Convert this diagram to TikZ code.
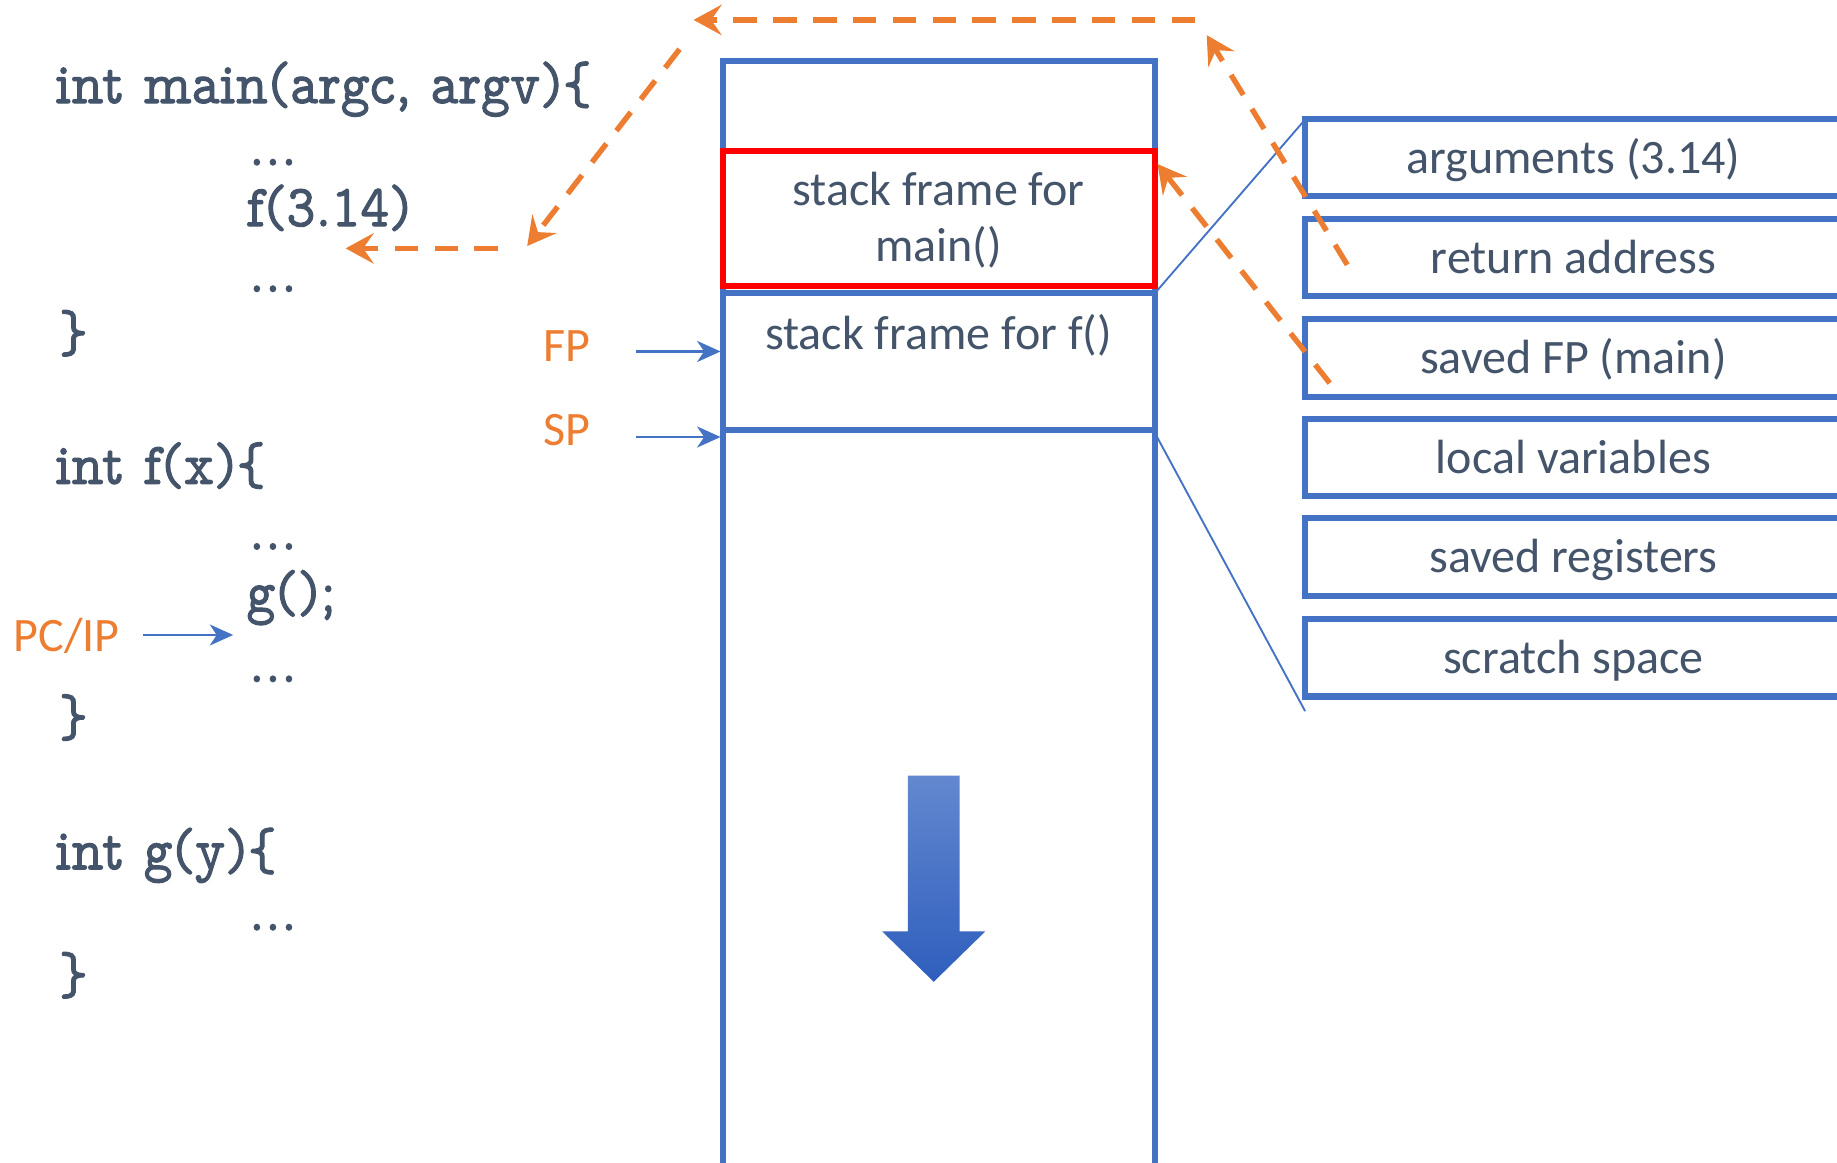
\documentclass[tikz,border=0pt]{standalone}
\usepackage{fontspec}
\setmainfont{Carlito}
\newfontfamily\codefont[FakeBold=1.6,FakeStretch=0.92]{Latin Modern Mono Prop}
\usetikzlibrary{arrows.meta}
\definecolor{txt}{HTML}{44546A}
\definecolor{org}{HTML}{ED7D31}
\definecolor{blu}{HTML}{4472C4}
\definecolor{arrtop}{HTML}{6388CF}
\definecolor{arrbot}{HTML}{2E5EBD}
\begin{document}
\begin{tikzpicture}[x=0.5pt,y=-0.5pt,
  code/.style={anchor=base west, inner sep=0pt, font=\codefont\fontsize{25.5}{28}\selectfont, text=txt},
  lbl/.style={inner sep=0pt, font=\fontsize{20.5}{24}\selectfont, text=txt, align=center},
  reglbl/.style={inner sep=0pt, font=\fontsize{20.5}{24}\selectfont, text=org},
  fieldbox/.style={draw=blu, line width=2.6pt, minimum width=229pt, minimum height=33pt, inner sep=0pt, text height=16pt, text depth=2.5pt, font=\fontsize{20.5}{24}\selectfont, text=txt},
  stackline/.style={draw=blu, line width=2.5pt},
  thinline/.style={draw=blu, line width=0.8pt},
  ptr/.style={draw=blu, line width=0.9pt, -{Stealth[length=10pt,width=9pt,inset=3pt]}},
  flow/.style={draw=org, line width=2.3pt, dash pattern=on 10pt off 7pt, -{Stealth[length=12pt,width=13pt,inset=4.5pt]}}
]
\clip (0,0) rectangle (1568,992);
\fill[white] (0,0) rectangle (1568,992);

% ---- code ----
\node[code] (c1) at (47,88) {int main(argc, argv)\{};
\node[code] (c2) at (212,141) {...};
\node[code] (c3) at (210,193) {f(3.14)};
\node[code] (c4) at (212,249) {...};
\node[code] (c5) at (50,300) {\}};
\node[code] (c6) at (47,413) {int f(x)\{};
\node[code] (c7) at (212,469) {...};
\node[code] (c8) at (210,522) {g();};
\node[code] (c9) at (212,582) {...};
\node[code] (c10) at (50,628) {\}};
\node[code] (c11) at (47,742) {int g(y)\{};
\node[code] (c12) at (212,794) {...};
\node[code] (c13) at (50,848) {\}};

% ---- stack ----
\draw[stackline] (617,1000) -- (617,52) -- (986,52) -- (986,1000);
\draw[stackline] (617,129) -- (986,129);
\draw[stackline] (617,250) -- (986,250);
\draw[stackline] (617,367) -- (986,367);
\node[draw=red, line width=2.7pt, minimum width=184.5pt, minimum height=57.5pt, inner sep=0pt] (mainframe) at (801.5,186.5) {};
\node[lbl] (mainlbl) at (801,188) {stack frame for\\main()};
\node[lbl] (flbl) at (801,286) {stack frame for f()};
\coordinate (ftop) at (986,250);
\coordinate (fbot) at (986,370);

% ---- growth arrow ----
\shade[top color=arrtop, bottom color=arrbot] (775,662) -- (819,662) -- (819,795) -- (841,795) -- (797,838) -- (753,795) -- (775,795) -- cycle;

% ---- registers ----
\node[reglbl] (fp) at (484,295) {FP};
\node[reglbl] (sp) at (484,367) {SP};
\node[reglbl] (pc) at (57,543) {PC/IP};
\coordinate (fpstart) at (543,300);
\coordinate (spstart) at (543,373);
\coordinate (pcstart) at (122,542);
\coordinate (fpend) at (615,300);
\coordinate (spend) at (615,373);
\coordinate (pcend) at (199,542);
\draw[ptr] (fpstart) -- (fpend);
\draw[ptr] (spstart) -- (spend);
\draw[ptr] (pcstart) -- (pcend);

% ---- frame fields ----
\node[fieldbox] (args) at (1343,134.5) {arguments (3.14)};
\node[fieldbox] (ret) at (1343,219.8) {return address};
\node[fieldbox] (sfp) at (1343,305.5) {saved FP (main)};
\node[fieldbox] (locv) at (1343,390.5) {local variables};
\node[fieldbox] (sreg) at (1343,475.5) {saved registers};
\node[fieldbox] (scr) at (1343,561.5) {scratch space};
\coordinate (argtl) at (1114,102);
\coordinate (scrbl) at (1114,607);
\draw[thinline] (ftop) -- (argtl);
\draw[thinline] (fbot) -- (scrbl);

% ---- control flow ----
\coordinate (r1) at (1150,226);
\coordinate (r2) at (1030,30);
\coordinate (r3) at (1020,17);
\coordinate (r4) at (592,17);
\coordinate (r5) at (580,42);
\coordinate (r6) at (450,210);
\coordinate (r7) at (425,212);
\coordinate (r8) at (295,212);
\coordinate (s1) at (1135,327);
\coordinate (s2) at (988,140);
\draw[flow] (r1) -- (r2);
\draw[flow] (r3) -- (r4);
\draw[flow] (r5) -- (r6);
\draw[flow] (r7) -- (r8);
\draw[flow] (s1) -- (s2);
\end{tikzpicture}
\end{document}
